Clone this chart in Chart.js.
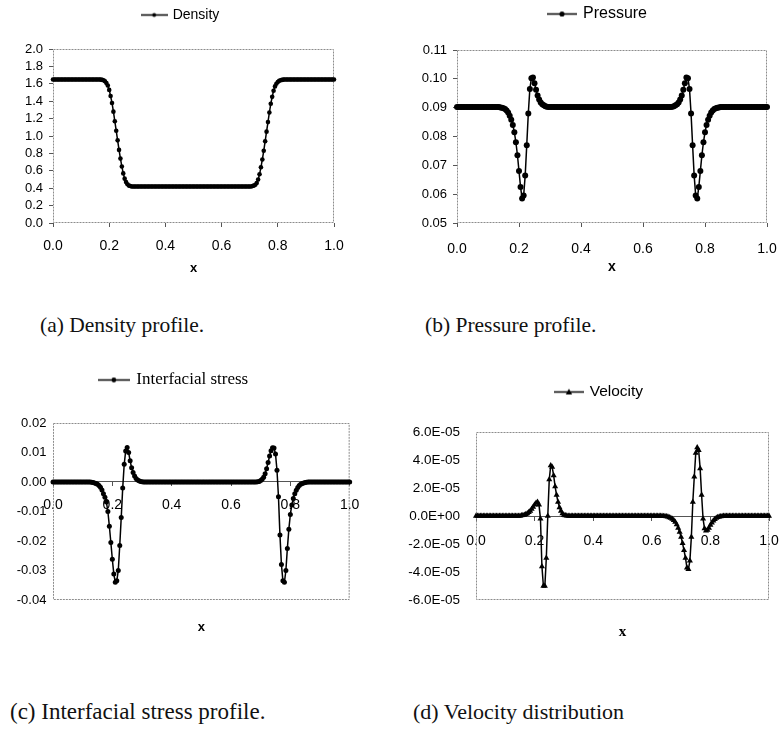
<!DOCTYPE html>
<html>
<head>
<meta charset="utf-8">
<title>Profiles</title>
<script src="https://cdn.jsdelivr.net/npm/chart.js@4.4.1/dist/chart.umd.min.js"></script>
<style>
    html, body { margin: 0; padding: 0; background: #fff; overflow: hidden; }
    body { width: 779px; height: 729px; position: relative; }
    canvas { position: absolute; }
    .caption {
        position: absolute;
        font-family: 'Liberation Serif', 'Times New Roman', serif;
        font-size: 21.5px;
        line-height: 24px;
        color: #111;
        white-space: nowrap;
    }
</style>
</head>
<body>
<canvas id="density-chart" width="362" height="279" style="left:0px;top:0px"></canvas>
<canvas id="pressure-chart" width="398" height="279" style="left:400px;top:0px"></canvas>
<canvas id="stress-chart" width="390" height="270" style="left:-20px;top:370px"></canvas>
<canvas id="velocity-chart" width="400" height="275" style="left:400px;top:370px"></canvas>
<div class="caption" style="left:40px;top:313px">(a) Density profile.</div>
<div class="caption" style="left:425px;top:313px">(b) Pressure profile.</div>
<div class="caption" style="left:10px;top:700px;font-size:23px">(c) Interfacial stress profile.</div>
<div class="caption" style="left:413px;top:700px;font-size:22px">(d) Velocity distribution</div>

<script>
const xPos = [
    0, 0.005, 0.01, 0.015, 0.02, 0.025, 0.03, 0.035, 0.04, 0.045,
    0.05, 0.055, 0.06, 0.065, 0.07, 0.075, 0.08, 0.085, 0.09, 0.095,
    0.1, 0.105, 0.11, 0.115, 0.12, 0.125, 0.13, 0.135, 0.14, 0.145,
    0.15, 0.155, 0.16, 0.165, 0.17, 0.175, 0.18, 0.185, 0.19, 0.195,
    0.2, 0.205, 0.21, 0.215, 0.22, 0.225, 0.23, 0.235, 0.24, 0.245,
    0.25, 0.255, 0.26, 0.265, 0.27, 0.275, 0.28, 0.285, 0.29, 0.295,
    0.3, 0.305, 0.31, 0.315, 0.32, 0.325, 0.33, 0.335, 0.34, 0.345,
    0.35, 0.355, 0.36, 0.365, 0.37, 0.375, 0.38, 0.385, 0.39, 0.395,
    0.4, 0.405, 0.41, 0.415, 0.42, 0.425, 0.43, 0.435, 0.44, 0.445,
    0.45, 0.455, 0.46, 0.465, 0.47, 0.475, 0.48, 0.485, 0.49, 0.495,
    0.5, 0.505, 0.51, 0.515, 0.52, 0.525, 0.53, 0.535, 0.54, 0.545,
    0.55, 0.555, 0.56, 0.565, 0.57, 0.575, 0.58, 0.585, 0.59, 0.595,
    0.6, 0.605, 0.61, 0.615, 0.62, 0.625, 0.63, 0.635, 0.64, 0.645,
    0.65, 0.655, 0.66, 0.665, 0.67, 0.675, 0.68, 0.685, 0.69, 0.695,
    0.7, 0.705, 0.71, 0.715, 0.72, 0.725, 0.73, 0.735, 0.74, 0.745,
    0.75, 0.755, 0.76, 0.765, 0.77, 0.775, 0.78, 0.785, 0.79, 0.795,
    0.8, 0.805, 0.81, 0.815, 0.82, 0.825, 0.83, 0.835, 0.84, 0.845,
    0.85, 0.855, 0.86, 0.865, 0.87, 0.875, 0.88, 0.885, 0.89, 0.895,
    0.9, 0.905, 0.91, 0.915, 0.92, 0.925, 0.93, 0.935, 0.94, 0.945,
    0.95, 0.955, 0.96, 0.965, 0.97, 0.975, 0.98, 0.985, 0.99, 0.995,
    1.0
];

const density = [
    1.65, 1.65, 1.65, 1.65, 1.65, 1.65, 1.65, 1.65, 1.65, 1.65,
    1.65, 1.65, 1.65, 1.65, 1.65, 1.65, 1.65, 1.65, 1.65, 1.65,
    1.65, 1.65, 1.65, 1.65, 1.65, 1.65, 1.65, 1.65, 1.65, 1.65,
    1.65, 1.65, 1.65, 1.65, 1.648, 1.645, 1.64, 1.63, 1.61, 1.58,
    1.53, 1.46, 1.38, 1.28, 1.17, 1.06, 0.95, 0.84, 0.74, 0.65,
    0.57, 0.51, 0.47, 0.445, 0.43, 0.425, 0.42, 0.42, 0.42, 0.42,
    0.42, 0.42, 0.42, 0.42, 0.42, 0.42, 0.42, 0.42, 0.42, 0.42,
    0.42, 0.42, 0.42, 0.42, 0.42, 0.42, 0.42, 0.42, 0.42, 0.42,
    0.42, 0.42, 0.42, 0.42, 0.42, 0.42, 0.42, 0.42, 0.42, 0.42,
    0.42, 0.42, 0.42, 0.42, 0.42, 0.42, 0.42, 0.42, 0.42, 0.42,
    0.42, 0.42, 0.42, 0.42, 0.42, 0.42, 0.42, 0.42, 0.42, 0.42,
    0.42, 0.42, 0.42, 0.42, 0.42, 0.42, 0.42, 0.42, 0.42, 0.42,
    0.42, 0.42, 0.42, 0.42, 0.42, 0.42, 0.42, 0.42, 0.42, 0.42,
    0.42, 0.42, 0.42, 0.42, 0.42, 0.42, 0.42, 0.42, 0.42, 0.42,
    0.42, 0.42, 0.425, 0.43, 0.44, 0.46, 0.50, 0.56, 0.64, 0.73,
    0.83, 0.94, 1.05, 1.16, 1.27, 1.37, 1.45, 1.52, 1.57, 1.60,
    1.62, 1.635, 1.64, 1.645, 1.648, 1.65, 1.65, 1.65, 1.65, 1.65,
    1.65, 1.65, 1.65, 1.65, 1.65, 1.65, 1.65, 1.65, 1.65, 1.65,
    1.65, 1.65, 1.65, 1.65, 1.65, 1.65, 1.65, 1.65, 1.65, 1.65,
    1.65, 1.65, 1.65, 1.65, 1.65, 1.65, 1.65, 1.65, 1.65, 1.65,
    1.65
];

const pressure = [
    0.0902, 0.0902, 0.0902, 0.0902, 0.0902, 0.0902, 0.0902, 0.0902, 0.0902, 0.0902,
    0.0902, 0.0902, 0.0902, 0.0902, 0.0902, 0.0902, 0.0902, 0.0902, 0.0902, 0.0902,
    0.0902, 0.0902, 0.0902, 0.0902, 0.0902, 0.0902, 0.0902, 0.0902, 0.0901, 0.0900,
    0.0898, 0.0895, 0.0890, 0.0883, 0.0872, 0.0858, 0.0840, 0.0815, 0.0780, 0.0735,
    0.0680, 0.0625, 0.0585, 0.0595, 0.0665, 0.0770, 0.0880, 0.0965, 0.1002, 0.1005,
    0.0985, 0.0962, 0.0942, 0.0928, 0.0918, 0.0912, 0.0908, 0.0905, 0.0903, 0.0902,
    0.0902, 0.0902, 0.0902, 0.0902, 0.0902, 0.0902, 0.0902, 0.0902, 0.0902, 0.0902,
    0.0902, 0.0902, 0.0902, 0.0902, 0.0902, 0.0902, 0.0902, 0.0902, 0.0902, 0.0902,
    0.0902, 0.0902, 0.0902, 0.0902, 0.0902, 0.0902, 0.0902, 0.0902, 0.0902, 0.0902,
    0.0902, 0.0902, 0.0902, 0.0902, 0.0902, 0.0902, 0.0902, 0.0902, 0.0902, 0.0902,
    0.0902, 0.0902, 0.0902, 0.0902, 0.0902, 0.0902, 0.0902, 0.0902, 0.0902, 0.0902,
    0.0902, 0.0902, 0.0902, 0.0902, 0.0902, 0.0902, 0.0902, 0.0902, 0.0902, 0.0902,
    0.0902, 0.0902, 0.0902, 0.0902, 0.0902, 0.0902, 0.0902, 0.0902, 0.0902, 0.0902,
    0.0902, 0.0902, 0.0902, 0.0902, 0.0902, 0.0902, 0.0902, 0.0902, 0.0902, 0.0903,
    0.0905, 0.0908, 0.0912, 0.0918, 0.0928, 0.0942, 0.0962, 0.0985, 0.1005, 0.1002,
    0.0965, 0.0880, 0.0770, 0.0665, 0.0595, 0.0585, 0.0625, 0.0680, 0.0735, 0.0780,
    0.0815, 0.0840, 0.0858, 0.0872, 0.0883, 0.0890, 0.0895, 0.0898, 0.0900, 0.0901,
    0.0902, 0.0902, 0.0902, 0.0902, 0.0902, 0.0902, 0.0902, 0.0902, 0.0902, 0.0902,
    0.0902, 0.0902, 0.0902, 0.0902, 0.0902, 0.0902, 0.0902, 0.0902, 0.0902, 0.0902,
    0.0902, 0.0902, 0.0902, 0.0902, 0.0902, 0.0902, 0.0902, 0.0902, 0.0902, 0.0902,
    0.0902
];

const stress = [
    0, 0, 0, 0, 0, 0, 0, 0, 0, 0,
    0, 0, 0, 0, 0, 0, 0, 0, 0, 0,
    0, 0, 0, 0, 0, 0, -0.0001, -0.0002, -0.0003, -0.0005,
    -0.0008, -0.0012, -0.0018, -0.0027, -0.0040, -0.0052, -0.0068, -0.0100, -0.0150, -0.0205,
    -0.0262, -0.0312, -0.0340, -0.0335, -0.0300, -0.0215, -0.0120, -0.0020, 0.0060, 0.0105,
    0.0117, 0.0100, 0.0072, 0.0048, 0.0032, 0.0020, 0.0012, 0.0007, 0.0004, 0.0002,
    0.0001, 0, 0, 0, 0, 0, 0, 0, 0, 0,
    0, 0, 0, 0, 0, 0, 0, 0, 0, 0,
    0, 0, 0, 0, 0, 0, 0, 0, 0, 0,
    0, 0, 0, 0, 0, 0, 0, 0, 0, 0,
    0, 0, 0, 0, 0, 0, 0, 0, 0, 0,
    0, 0, 0, 0, 0, 0, 0, 0, 0, 0,
    0, 0, 0, 0, 0, 0, 0, 0, 0, 0,
    0, 0, 0, 0, 0, 0, 0, 0, 0.0001, 0.0002,
    0.0005, 0.0009, 0.0016, 0.0028, 0.0045, 0.0066, 0.0088, 0.0106, 0.0116, 0.0115,
    0.0095, 0.0040, -0.0050, -0.0180, -0.0280, -0.0335, -0.0340, -0.0300, -0.0225, -0.0160,
    -0.0110, -0.0078, -0.0056, -0.0040, -0.0028, -0.0019, -0.0012, -0.0008, -0.0005, -0.0003,
    -0.0002, -0.0001, 0, 0, 0, 0, 0, 0, 0, 0,
    0, 0, 0, 0, 0, 0, 0, 0, 0, 0,
    0, 0, 0, 0, 0, 0, 0, 0, 0, 0,
    0
];

const velocity = [
    0, 0, 0, 0, 0, 0, 0, 0, 0, 0,
    0, 0, 0, 0, 0, 0, 0, 0, 0, 0,
    0, 0, 0, 0, 0, 0, 0, 0, 0, 0,
    0, 0.03e-5, 0.05e-5, 0.08e-5, 0.12e-5, 0.18e-5, 0.26e-5, 0.36e-5, 0.5e-5, 0.65e-5,
    0.8e-5, 0.93e-5, 1.0e-5, 0.8e-5, -0.2e-5, -3.6e-5, -5.0e-5, -5.0e-5, -3.0e-5, 0,
    2.6e-5, 3.6e-5, 3.5e-5, 2.9e-5, 2.1e-5, 1.5e-5, 1.0e-5, 0.6e-5, 0.35e-5, 0.18e-5,
    0.08e-5, 0.03e-5, 0.01e-5, 0, 0, 0, 0, 0, 0, 0,
    0, 0, 0, 0, 0, 0, 0, 0, 0, 0,
    0, 0, 0, 0, 0, 0, 0, 0, 0, 0,
    0, 0, 0, 0, 0, 0, 0, 0, 0, 0,
    0, 0, 0, 0, 0, 0, 0, 0, 0, 0,
    0, 0, 0, 0, 0, 0, 0, 0, 0, 0,
    0, 0, 0, 0, 0, 0, 0, 0, -0.01e-5, -0.02e-5,
    -0.04e-5, -0.06e-5, -0.1e-5, -0.15e-5, -0.22e-5, -0.3e-5, -0.42e-5, -0.6e-5, -0.85e-5, -1.15e-5,
    -1.5e-5, -1.95e-5, -2.45e-5, -3.0e-5, -3.7e-5, -3.8e-5, -3.2e-5, -1.5e-5, 1.0e-5, 2.8e-5,
    4.5e-5, 4.9e-5, 4.7e-5, 3.4e-5, 1.5e-5, -0.2e-5, -0.9e-5, -1.05e-5, -1.0e-5, -0.85e-5,
    -0.65e-5, -0.48e-5, -0.34e-5, -0.23e-5, -0.15e-5, -0.09e-5, -0.05e-5, -0.03e-5, -0.01e-5, 0,
    0, 0, 0, 0, 0, 0, 0, 0, 0, 0,
    0, 0, 0, 0, 0, 0, 0, 0, 0, 0,
    0, 0, 0, 0, 0, 0, 0, 0, 0, 0,
    0
];

const xTickVals = [0, 0.2, 0.4, 0.6, 0.8, 1.0];
const xTickLabels = ['0.0', '0.2', '0.4', '0.6', '0.8', '1.0'];
const densityTickVals = [0, 0.2, 0.4, 0.6, 0.8, 1.0, 1.2, 1.4, 1.6, 1.8, 2.0];
const densityTickLabels = ['0.0', '0.2', '0.4', '0.6', '0.8', '1.0', '1.2', '1.4', '1.6', '1.8', '2.0'];
const pressureTickVals = [0.05, 0.06, 0.07, 0.08, 0.09, 0.10, 0.11];
const pressureTickLabels = ['0.05', '0.06', '0.07', '0.08', '0.09', '0.10', '0.11'];
const stressTickVals = [-0.04, -0.03, -0.02, -0.01, 0, 0.01, 0.02];
const stressTickLabels = ['-0.04', '-0.03', '-0.02', '-0.01', '0.00', '0.01', '0.02'];
const velocityTickVals = [-6e-5, -4e-5, -2e-5, 0, 2e-5, 4e-5, 6e-5];
const velocityTickLabels = ['-6.0E-05', '-4.0E-05', '-2.0E-05', '0.0E+00', '2.0E-05', '4.0E-05', '6.0E-05'];

const sans = "'Liberation Sans', Arial, Helvetica, sans-serif";
const serif = "'Liberation Serif', 'Times New Roman', serif";

Chart.defaults.font.family = sans;
Chart.defaults.color = '#000';

// push the plot down below the legend, and nudge the legend sideways
const legendPlace = {
    id: 'legendPlace',
    beforeInit(chart, args, opts) {
        const fit = chart.legend.fit;
        chart.legend.fit = function() {
            fit.call(this);
            this.height += opts.gap || 0;
        };
    },
    afterLayout(chart, args, opts) {
        chart.legend.left += opts.shift || 0;
        chart.legend.right += opts.shift || 0;
    }
};

// dotted grey frame round the plot area
const plotFrame = {
    id: 'plotFrame',
    beforeDatasetsDraw(chart) {
        const { ctx, chartArea: a } = chart;
        ctx.save();
        ctx.strokeStyle = '#8c8c8c';
        ctx.lineWidth = 1;
        ctx.setLineDash([2, 1]);
        ctx.strokeRect(a.left + 0.5, a.top + 0.5, a.right - a.left - 1, a.bottom - a.top - 1);
        ctx.restore();
    }
};

// small line + marker picture used in the legends
function legendIcon(width, marker, size) {
    const c = document.createElement('canvas');
    c.width = width;
    c.height = 11;
    const g = c.getContext('2d');
    g.strokeStyle = '#000';
    g.fillStyle = '#000';
    g.lineWidth = 1.5;
    g.beginPath();
    g.moveTo(0, 5.5);
    g.lineTo(width, 5.5);
    g.stroke();
    g.beginPath();
    if (marker === 'triangle') {
        g.moveTo(width / 2, 5.5 - size);
        g.lineTo(width / 2 + size, 5.5 + size * 0.8);
        g.lineTo(width / 2 - size, 5.5 + size * 0.8);
        g.closePath();
    } else {
        g.arc(width / 2, 5.5, size, 0, Math.PI * 2);
    }
    g.fill();
    return c;
}

function buildChart(id, s) {
    const points = xPos.map((x, i) => ({ x: x, y: s.values[i] }));
    const xTitle = {
        display: true,
        text: 'x',
        color: '#000',
        font: s.titleFont,
        padding: { top: 0, bottom: s.titlePad }
    };

    const scales = {
        x: {
            type: 'linear',
            min: 0,
            max: 1,
            position: s.zeroAxis ? { y: 0 } : 'bottom',
            afterBuildTicks: axis => { axis.ticks = xTickVals.map(v => ({ value: v })); },
            ticks: {
                callback: (v, i) => xTickLabels[i],
                font: { size: 14 },
                color: '#000',
                padding: s.xLabelPad,
                maxRotation: 0,
                autoSkip: false
            },
            grid: { drawOnChartArea: false, tickLength: 4, color: '#555' },
            border: { display: !!s.zeroAxis, color: '#555' }
        },
        y: {
            type: 'linear',
            min: s.yTickVals[0],
            max: s.yTickVals[s.yTickVals.length - 1],
            afterBuildTicks: axis => { axis.ticks = s.yTickVals.map(v => ({ value: v })); },
            afterFit: axis => { axis.width = s.yAxisWidth; },
            ticks: {
                callback: (v, i) => s.yTickLabels[i],
                font: { size: s.yFontSize },
                color: '#000',
                padding: s.yLabelPad,
                autoSkip: false
            },
            grid: { drawOnChartArea: false, drawTicks: s.yTickMarks, tickLength: 4, color: '#555' },
            border: { display: false }
        }
    };

    if (s.zeroAxis) {
        // axis crosses at zero, so the "x" title sits on its own empty axis below
        scales.x2 = {
            type: 'linear',
            min: 0,
            max: 1,
            position: 'bottom',
            ticks: { display: false },
            grid: { display: false },
            border: { display: false },
            title: xTitle,
            afterFit: axis => { axis.height = s.xAxisHeight; }
        };
    } else {
        scales.x.title = xTitle;
        scales.x.afterFit = axis => { axis.height = s.xAxisHeight; };
    }

    return new Chart(document.getElementById(id), {
        type: 'line',
        data: {
            datasets: [{
                label: s.label,
                data: points,
                borderColor: '#000',
                backgroundColor: '#000',
                borderWidth: 1.5,
                pointStyle: s.pointStyle,
                pointRadius: s.pointRadius,
                pointBorderWidth: 0,
                pointBackgroundColor: '#000',
                tension: 0,
                clip: false
            }]
        },
        options: {
            responsive: false,
            animation: false,
            layout: { padding: { top: 0, left: 0, bottom: 0, right: s.padRight } },
            scales: scales,
            plugins: {
                legend: {
                    display: true,
                    position: 'top',
                    align: 'center',
                    labels: {
                        usePointStyle: true,
                        pointStyle: s.icon,
                        pointStyleWidth: s.icon.width - 4,
                        padding: s.legendPad,
                        color: '#000',
                        font: s.legendFont
                    }
                },
                legendPlace: { gap: s.legendGap, shift: s.legendShift },
                tooltip: { enabled: false }
            }
        },
        plugins: [legendPlace, plotFrame]
    });
}

buildChart('density-chart', {
    values: density,
    label: 'Density',
    icon: legendIcon(27, 'circle', 2),
    legendFont: { size: 14, family: sans },
    legendPad: 8,
    legendGap: 17,
    legendShift: 14,
    pointStyle: 'circle',
    pointRadius: 2.3,
    yTickVals: densityTickVals,
    yTickLabels: densityTickLabels,
    yFontSize: 13,
    yLabelPad: 6,
    yTickMarks: true,
    yAxisWidth: 53,
    padRight: 28,
    xLabelPad: 10.6,
    xAxisHeight: 56,
    titleFont: { size: 13, weight: 'bold', family: sans },
    titlePad: 3.2,
    zeroAxis: false
});

buildChart('pressure-chart', {
    values: pressure,
    label: 'Pressure',
    icon: legendIcon(30, 'circle', 2.6),
    legendFont: { size: 16, family: sans },
    legendPad: 6,
    legendGap: 18,
    legendShift: 14.5,
    pointStyle: 'circle',
    pointRadius: 3,
    yTickVals: pressureTickVals,
    yTickLabels: pressureTickLabels,
    yFontSize: 13,
    yLabelPad: 6,
    yTickMarks: true,
    yAxisWidth: 57,
    padRight: 31,
    xLabelPad: 13.6,
    xAxisHeight: 56,
    titleFont: { size: 14, weight: 'bold', family: sans },
    titlePad: 3.2,
    zeroAxis: false
});

buildChart('stress-chart', {
    values: stress,
    label: 'Interfacial stress',
    icon: legendIcon(32, 'circle', 2.4),
    legendFont: { size: 17, family: serif },
    legendPad: 1.5,
    legendGap: 24.5,
    legendShift: 4.5,
    pointStyle: 'circle',
    pointRadius: 2.5,
    yTickVals: stressTickVals,
    yTickLabels: stressTickLabels,
    yFontSize: 13,
    yLabelPad: 6.6,
    yTickMarks: false,
    yAxisWidth: 73,
    padRight: 11,
    xLabelPad: 10.6,
    xAxisHeight: 40,
    titleFont: { size: 13, weight: 'bold', family: sans },
    titlePad: 5.2,
    zeroAxis: true
});

buildChart('velocity-chart', {
    values: velocity,
    label: 'Velocity',
    icon: legendIcon(30, 'triangle', 3.2),
    legendFont: { size: 15.5, family: sans },
    legendPad: 14.25,
    legendGap: 22.25,
    legendShift: 15,
    pointStyle: 'triangle',
    pointRadius: 3.5,
    yTickVals: velocityTickVals,
    yTickLabels: velocityTickLabels,
    yFontSize: 13.5,
    yLabelPad: 16,
    yTickMarks: false,
    yAxisWidth: 76,
    padRight: 31,
    xLabelPad: 12.9,
    xAxisHeight: 45,
    titleFont: { size: 15, weight: 'bold', family: serif },
    titlePad: 4,
    zeroAxis: true
});
</script>
</body>
</html>
